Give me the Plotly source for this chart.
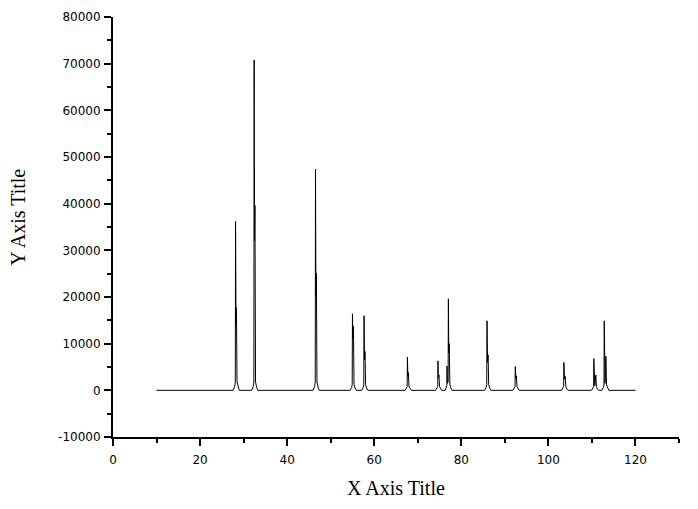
import plotly.graph_objects as go

# ---- data (polyline vertices of the pattern) ----
two_theta = [
    10.00,
    27.60, 27.95, 28.09, 28.15, 28.25, 28.35, 28.49, 28.71, 29.01,
    31.87, 32.22, 32.36, 32.42, 32.51, 32.60, 32.74, 32.96, 33.26,
    45.96, 46.31, 46.45, 46.51, 46.61, 46.71, 46.85, 47.07, 47.37,
    54.45, 54.80, 54.94, 55.00, 55.11, 55.22, 55.36, 55.58, 55.88,
    57.11, 57.46, 57.60, 57.66, 57.77, 57.88, 58.02, 58.24, 58.54,
    67.07, 67.42, 67.56, 67.62, 67.73, 67.84, 67.98, 68.20, 68.50,
    74.09, 74.44, 74.58, 74.64, 74.75, 74.86, 75.00, 75.22, 75.52,
    76.30, 76.55, 76.68, 76.72, 76.80, 76.97, 77.03, 77.13, 77.23, 77.37, 77.59, 77.89,
    85.35, 85.70, 85.84, 85.90, 86.02, 86.15, 86.29, 86.51, 86.81,
    91.85, 92.20, 92.34, 92.40, 92.52, 92.65, 92.79, 93.01, 93.31,
    103.01, 103.36, 103.50, 103.56, 103.71, 103.86, 104.00, 104.22, 104.52,
    109.89, 110.24, 110.38, 110.44, 110.66, 110.89, 111.03, 111.25, 111.55,
    112.28, 112.63, 112.77, 112.83, 113.02, 113.21, 113.35, 113.57, 113.87,
    120.00,
]
intensity = [
    0,
    0, 800, 1800, 36200, 14000, 17700, 1800, 700, 0,
    0, 800, 1800, 70800, 32000, 39600, 1800, 700, 0,
    0, 800, 1800, 47400, 20000, 25100, 1800, 700, 0,
    0, 600, 1200, 16400, 11000, 13800, 1200, 500, 0,
    0, 600, 1200, 16000, 6500, 8300, 1200, 500, 0,
    0, 400, 800, 7100, 3000, 3800, 800, 300, 0,
    0, 400, 800, 6300, 2600, 3300, 800, 300, 0,
    0, 600, 1000, 5200, 1500, 1800, 19600, 8000, 10000, 1200, 500, 0,
    0, 600, 1200, 14900, 6000, 7600, 1200, 500, 0,
    0, 400, 800, 5100, 2500, 3100, 800, 300, 0,
    0, 400, 800, 6000, 2400, 3000, 800, 300, 0,
    0, 400, 800, 6800, 1000, 3300, 800, 300, 0,
    0, 600, 1200, 14900, 1500, 7300, 1200, 500, 0,
    0,
]

x_tick_vals = [0, 20, 40, 60, 80, 100, 120]
x_tick_text = ["0", "20", "40", "60", "80", "100", "120"]
y_tick_vals = [-10000, 0, 10000, 20000, 30000, 40000, 50000, 60000, 70000, 80000]
y_tick_text = ["-10000", "0", "10000", "20000", "30000", "40000",
               "50000", "60000", "70000", "80000"]
x_title = "X Axis Title"
y_title = "Y Axis Title"

fig = go.Figure()
fig.add_trace(go.Scatter(
    x=two_theta, y=intensity, mode="lines",
    line=dict(color="black", width=1), showlegend=False, hoverinfo="skip",
))

tick_font = dict(family="DejaVu Sans", size=12, color="black")
axis_common = dict(
    showline=True, linecolor="black", linewidth=2,
    ticks="outside", ticklen=7, tickwidth=2, tickcolor="black",
    showgrid=False, zeroline=False, mirror=False,
    tickfont=tick_font, automargin=False,
)

fig.update_xaxes(
    range=[0, 130], tickmode="array", tickvals=x_tick_vals, ticktext=x_tick_text,
    minor=dict(ticks="outside", ticklen=4, tickwidth=2, tickcolor="black",
               tickmode="linear", tick0=0, dtick=10, showgrid=False),
    ticklabelstandoff=4,
    **axis_common,
)
fig.update_yaxes(
    range=[-10000, 80000], tickmode="array", tickvals=y_tick_vals, ticktext=y_tick_text,
    minor=dict(ticks="outside", ticklen=4, tickwidth=2, tickcolor="black",
               tickmode="linear", tick0=0, dtick=5000, showgrid=False),
    ticklabelstandoff=1,
    **axis_common,
)

title_font = dict(family="Liberation Serif", size=20, color="black")
fig.update_layout(
    width=682, height=493,
    margin=dict(l=105, r=11, t=9, b=64),
    paper_bgcolor="white", plot_bgcolor="white",
    annotations=[
        dict(text=x_title, xref="paper", yref="paper", x=0.5, y=-0.1214,
             xanchor="center", yanchor="middle", showarrow=False, font=title_font),
        dict(text=y_title, xref="paper", yref="paper", x=-0.168, y=0.524,
             xanchor="center", yanchor="middle", textangle=-90, showarrow=False,
             font=title_font),
    ],
)

fig.write_html("out.html")
